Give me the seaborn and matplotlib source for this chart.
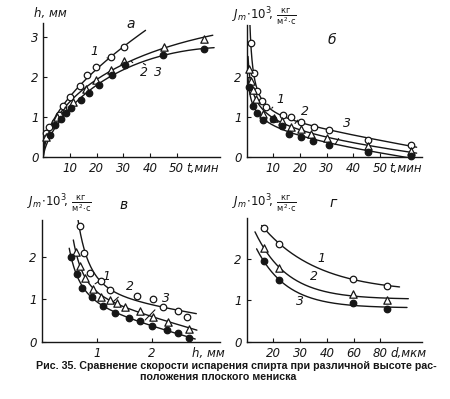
import numpy as np
import pandas as pd
import matplotlib
matplotlib.use("Agg")
import matplotlib.pyplot as plt
import seaborn as sns

# ---------------- data ----------------
# panel а : h, mm vs t, min
a_t1 = [1.0, 2.2, 4.3, 5.8, 7.2, 10.0, 13.8, 16.3, 19.8, 25.3, 30.2]
a_h1 = [0.60, 0.75, 0.87, 1.03, 1.27, 1.50, 1.77, 2.04, 2.23, 2.48, 2.73]
a_t2 = [1.0, 5.0, 8.0, 11.0, 16.0, 19.8, 25.3, 30.2, 45.3, 60.2]
a_h2 = [0.50, 0.98, 1.17, 1.37, 1.70, 1.92, 2.17, 2.39, 2.75, 2.94]
a_t3 = [2.5, 4.5, 6.5, 8.4, 10.5, 14.2, 17.3, 20.7, 25.7, 30.6, 45.0, 60.2]
a_h3 = [0.54, 0.80, 0.95, 1.10, 1.21, 1.42, 1.60, 1.79, 2.03, 2.28, 2.55, 2.68]
a_curve_end = [38.3, 63.5, 64.0]

# panel б : Jm*10^3 vs t, min
b_t1 = [1.5, 2.8, 4.0, 5.6, 7.2, 13.5, 16.5, 20.2, 25.2, 31.0, 45.6, 61.5]
b_J1 = [2.84, 2.10, 1.64, 1.39, 1.23, 1.04, 1.00, 0.875, 0.73, 0.67, 0.42, 0.29]
b_t2 = [0.7, 1.7, 2.5, 3.5, 6.2, 10.2, 13.1, 16.5, 20.2, 24.0, 30.2, 45.6, 61.5]
b_J2 = [2.20, 1.88, 1.67, 1.43, 1.07, 0.96, 0.89, 0.735, 0.68, 0.56, 0.46, 0.27, 0.14]
b_t3 = [0.8, 2.2, 4.0, 6.2, 10.0, 13.1, 16.0, 20.2, 25.0, 31.0, 45.6, 61.5]
b_J3 = [1.75, 1.27, 1.10, 0.92, 0.93, 0.77, 0.57, 0.49, 0.38, 0.29, 0.125, 0.02]
b_curve_range = [0.5, 63.7]

# panel в : Jm*10^3 vs h, mm
c_h1 = [0.70, 0.77, 0.88, 1.07, 1.25, 1.74, 2.03, 2.21, 2.47, 2.64]
c_J1 = [2.71, 2.09, 1.62, 1.42, 1.22, 1.08, 1.00, 0.82, 0.72, 0.57]
c_h2 = [0.62, 0.70, 0.79, 0.94, 1.08, 1.24, 1.36, 1.52, 1.78, 2.03, 2.30, 2.67]
c_J2 = [2.10, 1.79, 1.50, 1.25, 1.04, 0.98, 0.90, 0.82, 0.71, 0.59, 0.47, 0.31]
c_h3 = [0.53, 0.65, 0.73, 0.91, 1.11, 1.33, 1.58, 1.79, 2.00, 2.27, 2.48, 2.67]
c_J3 = [2.00, 1.58, 1.27, 1.04, 0.85, 0.67, 0.56, 0.49, 0.38, 0.27, 0.20, 0.08]
c_curve_start = [0.62, 0.575, 0.50]
c_curve_end = [2.81, 2.82, 2.79]

# panel г : Jm*10^3 vs d, mkm (non-uniform axis)
g_d = [16.5, 22, 59.5, 85]
g_J1 = [2.74, 2.36, 1.52, 1.34]
g_J2 = [2.26, 1.78, 1.16, 1.00]
g_J3 = [1.94, 1.48, 0.94, 0.78]
g_curve_start = [15.6, 13.1, 13.7]
g_curve_end = [94.4, 101.0, 100.0]
g_ticks = [20, 30, 40, 60, 80]
g_axis_d = [10, 20, 30, 40, 60, 80, 120]
g_axis_pos = [0, 1, 2, 3, 4, 5, 7]

caption1 = "Рис. 35. Сравнение скорости испарения спирта при различной высоте рас-"
caption2 = "положения плоского мениска"

# ---------------- helpers ----------------
def fit_grid(x, y, basis, params):
    x = np.asarray(x, float); y = np.asarray(y, float)
    best = None
    for p in params:
        A = basis(x, p)
        coef = np.linalg.lstsq(A, y, rcond=None)[0]
        r = np.sum((A @ coef - y) ** 2)
        if best is None or r < best[0]:
            best = (r, p, coef)
    return lambda xs: basis(np.asarray(xs, float), best[1]) @ best[2]

def basis_growth(x, p):
    u = x ** p
    return np.column_stack([u, u ** 2])

def basis_decay(x, p):
    return np.column_stack([x ** (-p), np.ones_like(x), x])

def g_fwd(d):
    return np.interp(d, g_axis_d, g_axis_pos)

def g_inv(p):
    return np.interp(p, g_axis_pos, g_axis_d)

def basis_exp(pos, k):
    return np.column_stack([np.exp(-k * pos), np.ones_like(pos)])

W, H = 450, 399
sns.set_style("ticks")
plt.rcParams["font.family"] = ["DejaVu Sans"]
plt.rcParams["mathtext.fontset"] = "dejavusans"
fig = plt.figure(figsize=(W / 100, H / 100), dpi=100)
fig.patch.set_facecolor("white")

def px_axes(l, t, r, b):
    return fig.add_axes([l / W, 1 - b / H, (r - l) / W, (b - t) / H])

def ftxt(x, y, s, **kw):
    return fig.text(x / W, 1 - y / H, s, **kw)

INK = "#161616"
LW = 1.0
mk_open_c = dict(marker="o", s=22, facecolor="white", edgecolor=INK, linewidth=0.9)
mk_tri = dict(marker="^", s=28, facecolor="white", edgecolor=INK, linewidth=0.9)
mk_fill = dict(marker="o", s=22, facecolor=INK, edgecolor=INK, linewidth=0.9)
styles = [mk_open_c, mk_tri, mk_fill]

def style_ax(ax):
    sns.despine(ax=ax)
    for s in ["left", "bottom"]:
        ax.spines[s].set_linewidth(1.0)
        ax.spines[s].set_color(INK)
    ax.tick_params(direction="in", length=3, width=0.8, colors=INK,
                   labelsize=8.5, pad=3.5)
    for lab in ax.get_xticklabels() + ax.get_yticklabels():
        lab.set_fontstyle("italic")
    ax.set_xlabel(""); ax.set_ylabel("")
    ax.patch.set_alpha(0)

def xunit(ax, s, xpos):
    ax.annotate(s, xy=(xpos, 0), xycoords=("data", "axes fraction"),
                xytext=(0, -3.5), textcoords="offset points", ha="left", va="top",
                fontsize=8.5, fontstyle="italic", color=INK)

def draw_line(ax, xs, ys):
    sns.lineplot(x=xs, y=ys, ax=ax, color=INK, lw=LW, estimator=None,
                 sort=False, legend=False)

def leader(ax, lab, xy, xyt):
    ax.annotate(lab, xy=xy, xytext=xyt, fontsize=9, fontstyle="italic",
                ha="center", va="center", color=INK,
                arrowprops=dict(arrowstyle="-", lw=0.8, color=INK,
                                shrinkA=4, shrinkB=0))

# ---------------- panel а ----------------
ax = px_axes(43.3, 23, 220, 156.7)
for (tx, hy), end in zip([(a_t1, a_h1), (a_t2, a_h2), (a_t3, a_h3)], a_curve_end):
    f = fit_grid(tx, hy, basis_growth, np.linspace(0.3, 0.9, 31))
    xs = np.linspace(0, end, 300)
    draw_line(ax, xs, f(xs))
for (tx, hy), st in zip([(a_t1, a_h1), (a_t2, a_h2), (a_t3, a_h3)], styles):
    sns.scatterplot(x=tx, y=hy, ax=ax, zorder=5, clip_on=False, **st)
ax.set_xlim(0, 66.2); ax.set_ylim(0, 3.34)
ax.set_xticks([10, 20, 30, 40, 50]); ax.set_yticks([0, 1, 2, 3])
style_ax(ax)
xunit(ax, "t,мин", 53.5)
leader(ax, "1", (24.5, 2.45), (19.3, 2.62))
leader(ax, "2", (33.0, 2.38), (37.8, 2.1))
leader(ax, "3", (37.5, 2.33), (42.8, 2.1))
ftxt(34, 14, "h, мм", fontsize=8.5, fontstyle="italic", va="center", color=INK)
ftxt(130.7, 24, "а", fontsize=10, fontstyle="italic", ha="center", va="center", color=INK)

# ---------------- panel б ----------------
ax = px_axes(246.7, 25, 421.7, 156.7)
for tx, jy in [(b_t1, b_J1), (b_t2, b_J2), (b_t3, b_J3)]:
    f = fit_grid(tx, jy, basis_decay, np.linspace(0.2, 2.0, 37))
    xs = np.geomspace(b_curve_range[0], b_curve_range[1], 400)
    draw_line(ax, xs, f(xs))
for (tx, jy), st in zip([(b_t1, b_J1), (b_t2, b_J2), (b_t3, b_J3)], styles):
    sns.scatterplot(x=tx, y=jy, ax=ax, zorder=5, clip_on=False, **st)
ax.set_xlim(0, 65.6); ax.set_ylim(0, 3.29)
ax.set_xticks([10, 20, 30, 40, 50]); ax.set_yticks([0, 1, 2])
style_ax(ax)
xunit(ax, "t,мин", 53.5)
leader(ax, "1", (9.4, 1.21), (12.5, 1.44))
leader(ax, "2", (18.1, 0.83), (21.9, 1.13))
leader(ax, "3", (33.1, 0.30), (37.7, 0.82))
JLAB = r"$J_m\!\cdot\!10^3\!,\,\frac{\mathrm{кг}}{\mathrm{м^2\!\cdot\! с}}$"
ftxt(231.7, 17, JLAB, fontsize=8.5, va="center", color=INK)
ftxt(331.7, 40, "б", fontsize=10, fontstyle="italic", ha="center", va="center", color=INK)

# ---------------- panel в ----------------
ax = px_axes(41.7, 220, 220, 341.7)
for (hx, jy), s0, e0 in zip([(c_h1, c_J1), (c_h2, c_J2), (c_h3, c_J3)],
                            c_curve_start, c_curve_end):
    f = fit_grid(hx, jy, basis_decay, np.linspace(0.3, 3.0, 55))
    xs = np.linspace(s0, e0, 300)
    draw_line(ax, xs, f(xs))
for (hx, jy), st in zip([(c_h1, c_J1), (c_h2, c_J2), (c_h3, c_J3)], styles):
    sns.scatterplot(x=hx, y=jy, ax=ax, zorder=5, clip_on=False, **st)
ax.set_xlim(0, 3.24); ax.set_ylim(0, 2.86)
ax.set_xticks([1, 2]); ax.set_yticks([0, 1, 2])
style_ax(ax)
xunit(ax, "h, мм", 2.73)
leader(ax, "1", (0.97, 1.36), (1.17, 1.53))
leader(ax, "2", (1.30, 0.94), (1.60, 1.29))
leader(ax, "3", (1.88, 0.51), (2.26, 1.02))
ftxt(26.7, 204, JLAB, fontsize=8.5, va="center", color=INK)
ftxt(124, 205, "в", fontsize=10, fontstyle="italic", ha="center", va="center", color=INK)

# ---------------- panel г ----------------
ax = px_axes(246.7, 218, 421.7, 341.7)
ax.set_xscale("function", functions=(g_fwd, g_inv))
for jy, s0, e0 in zip([g_J1, g_J2, g_J3], g_curve_start, g_curve_end):
    f = fit_grid(g_fwd(g_d), jy, basis_exp, np.linspace(0.05, 2.0, 79))
    ps = np.linspace(g_fwd(s0), g_fwd(e0), 300)
    draw_line(ax, g_inv(ps), f(ps))
for jy, st in zip([g_J1, g_J2, g_J3], styles):
    sns.scatterplot(x=g_d, y=jy, ax=ax, zorder=5, clip_on=False, **st)
ax.set_xlim(10, 111); ax.set_ylim(0, 2.98)
ax.set_xticks(g_ticks); ax.set_xticklabels([str(v) for v in g_ticks])
ax.set_yticks([0, 1, 2])
ax.xaxis.set_minor_locator(matplotlib.ticker.NullLocator())
style_ax(ax)
xunit(ax, "d,мкм", 87.5)
for lab, xd, yj in [("1", 38.1, 2.01), ("2", 35.0, 1.57), ("3", 30.0, 0.96)]:
    ax.text(xd, yj, lab, fontsize=9, fontstyle="italic", ha="center",
            va="center", color=INK)
ftxt(231.7, 204, JLAB, fontsize=8.5, va="center", color=INK)
ftxt(333.3, 203.3, "г", fontsize=10, fontstyle="italic", ha="center", va="center", color=INK)

# ---------------- caption ----------------
ftxt(236, 366, caption1, fontsize=7.7, fontweight="bold", family="Liberation Sans",
     ha="center", va="center", color=INK)
ftxt(218, 376.5, caption2, fontsize=7.7, fontweight="bold", family="Liberation Sans",
     ha="center", va="center", color=INK)

fig.savefig("out.png", dpi=100, facecolor="white")
